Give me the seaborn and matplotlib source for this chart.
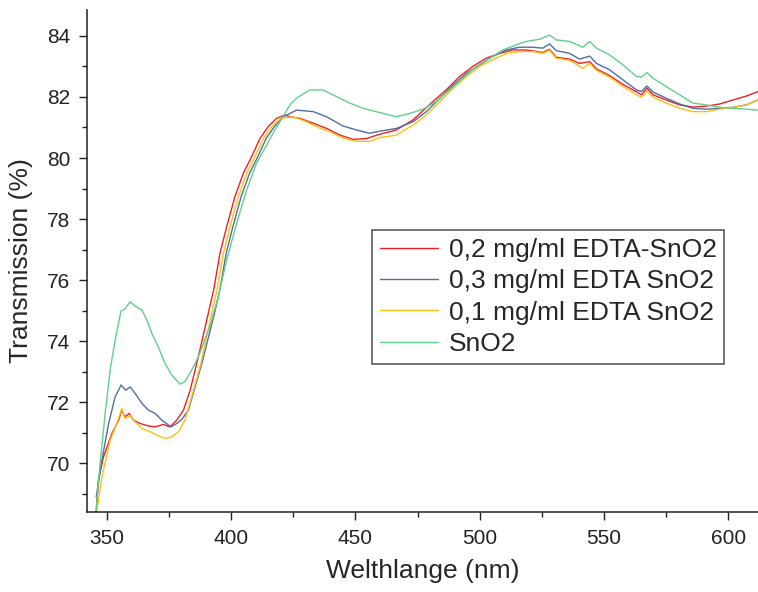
import matplotlib
matplotlib.use("Agg")
import matplotlib.pyplot as plt
from matplotlib.ticker import MultipleLocator
import pandas as pd
import seaborn as sns

# Transmission spectra (wavelength in nm, transmission in %)
labels = ["0,2 mg/ml EDTA-SnO2", "0,3 mg/ml EDTA SnO2", "0,1 mg/ml EDTA SnO2", "SnO2"]
colors = ["#ee2026", "#4e6fa3", "#ffc014", "#62cf8a"]

wl_02 = [345.5, 346.6, 348.6, 352.0, 354.7, 356.0, 357.3, 359.0, 360.7, 363.4, 366.7, 369.4,
         372.7, 375.4, 378.1, 380.8, 383.5, 386.8, 390.8, 393.0, 395.5, 398.2, 401.5, 404.9,
         408.2, 411.6, 414.9, 418.3, 421.6, 423.6, 427.6, 433.0, 438.4, 443.8, 449.1, 454.5,
         459.8, 466.5, 473.2, 481.2, 486.5, 491.9, 497.2, 502.6, 508.0, 513.3, 518.7, 525.4,
         528.1, 530.8, 536.2, 540.2, 544.3, 547.0, 552.3, 557.7, 563.1, 565.1, 567.3, 569.8,
         575.1, 580.5, 585.8, 591.2, 596.5, 601.9, 607.3, 611.8]
t_02 = [68.2, 69.44, 70.2, 70.97, 71.41, 71.74, 71.52, 71.63, 71.41, 71.30, 71.22, 71.19,
        71.27, 71.19, 71.41, 71.74, 72.39, 73.49, 74.91, 75.7, 76.88, 77.75, 78.73, 79.5,
        80.04, 80.64, 81.03, 81.3, 81.41, 81.35, 81.3, 81.14, 80.97, 80.75, 80.61, 80.64,
        80.78, 80.92, 81.25, 81.85, 82.23, 82.67, 83.0, 83.27, 83.43, 83.54, 83.54, 83.46,
        83.56, 83.3, 83.24, 83.1, 83.16, 82.92, 82.7, 82.41, 82.17, 82.07, 82.29, 82.07,
        81.9, 81.74, 81.67, 81.7, 81.77, 81.9, 82.03, 82.17]

wl_03 = [345.7, 348.0, 350.7, 353.3, 355.7, 357.6, 359.4, 361.4, 364.1, 366.7, 369.4, 372.1,
         375.8, 378.1, 380.1, 382.8, 385.5, 388.2, 393.3, 395.5, 398.0, 400.7, 404.0, 407.4,
         410.7, 414.1, 417.4, 421.0, 426.3, 433.0, 438.4, 445.0, 450.4, 455.7, 459.8, 466.5,
         473.2, 478.6, 484.0, 489.3, 494.7, 500.0, 505.3, 510.7, 516.0, 521.4, 525.4, 528.1,
         530.8, 536.2, 540.2, 544.3, 547.0, 552.3, 557.7, 563.1, 565.1, 567.3, 569.8, 575.1,
         580.5, 585.8, 591.2, 596.5, 601.9, 607.3, 611.8]
t_03 = [68.9, 70.1, 71.3, 72.17, 72.56, 72.39, 72.5, 72.28, 71.96, 71.74, 71.63, 71.41,
        71.19, 71.30, 71.43, 71.74, 72.5, 73.27, 74.91, 75.7, 76.88, 77.75, 78.73, 79.5,
        80.04, 80.64, 81.03, 81.35, 81.57, 81.52, 81.35, 81.05, 80.92, 80.81, 80.88, 80.97,
        81.19, 81.52, 81.96, 82.39, 82.78, 83.05, 83.33, 83.54, 83.63, 83.63, 83.6, 83.74,
        83.52, 83.43, 83.24, 83.34, 83.1, 82.89, 82.56, 82.23, 82.18, 82.36, 82.16, 81.96,
        81.77, 81.63, 81.6, 81.63, 81.66, 81.74, 81.9]

wl_01 = [346.0, 348.0, 351.3, 354.0, 356.0, 357.3, 359.4, 361.4, 364.1, 367.4, 370.1, 373.4,
         376.1, 378.8, 381.4, 384.1, 387.5, 392.2, 394.4, 396.9, 399.6, 402.9, 406.3, 409.6,
         413.0, 416.3, 420.0, 425.0, 430.0, 435.0, 440.0, 445.0, 450.0, 455.7, 459.8, 466.5,
         473.2, 478.6, 484.0, 489.3, 494.7, 500.0, 505.3, 510.7, 516.0, 521.4, 525.4, 528.1,
         530.8, 536.2, 541.5, 544.3, 547.0, 552.3, 557.7, 563.1, 565.1, 567.3, 569.8, 575.1,
         580.5, 585.8, 591.2, 596.5, 601.9, 607.3, 611.8]
t_01 = [68.46, 69.55, 70.75, 71.3, 71.79, 71.46, 71.57, 71.35, 71.14, 71.03, 70.92, 70.81,
        70.86, 71.03, 71.41, 72.17, 73.16, 74.91, 75.7, 76.88, 77.75, 78.73, 79.5, 80.04,
        80.64, 81.03, 81.3, 81.35, 81.2, 81.0, 80.85, 80.65, 80.55, 80.54, 80.67, 80.75,
        81.08, 81.41, 81.85, 82.28, 82.67, 83.0, 83.22, 83.43, 83.49, 83.49, 83.43, 83.53,
        83.27, 83.2, 82.94, 83.1, 82.87, 82.65, 82.34, 82.07, 81.99, 82.2, 81.99, 81.8,
        81.63, 81.52, 81.52, 81.6, 81.66, 81.74, 81.9]

wl_sno2 = [345.7, 346.6, 349.3, 351.3, 353.3, 355.7, 357.1, 359.4, 361.4, 364.1, 366.1, 368.1,
           370.7, 373.4, 376.1, 379.4, 381.4, 384.1, 386.8, 391.5, 394.8, 398.2, 402.2, 406.2,
           410.2, 414.3, 417.6, 420.9, 423.6, 426.3, 431.6, 437.0, 441.0, 447.7, 453.0, 459.8,
           466.5, 471.8, 477.2, 482.5, 487.9, 493.2, 498.6, 504.0, 509.3, 514.7, 518.7, 524.1,
           528.1, 530.8, 536.2, 541.5, 544.3, 547.0, 552.3, 557.7, 563.1, 565.1, 567.3, 569.8,
           575.1, 580.5, 585.8, 591.2, 596.5, 601.9, 607.3, 611.8]
t_sno2 = [68.46, 69.44, 71.63, 73.05, 74.03, 74.99, 75.04, 75.29, 75.15, 75.02, 74.69, 74.25,
          73.81, 73.27, 72.89, 72.59, 72.67, 73.05, 73.49, 74.5, 75.45, 76.66, 77.86, 78.95,
          79.83, 80.43, 80.92, 81.35, 81.74, 81.96, 82.23, 82.23, 82.07, 81.8, 81.63, 81.49,
          81.35, 81.46, 81.6, 81.85, 82.23, 82.61, 83.0, 83.27, 83.54, 83.71, 83.82, 83.89,
          84.03, 83.87, 83.82, 83.63, 83.82, 83.6, 83.38, 83.05, 82.67, 82.65, 82.8, 82.61,
          82.34, 82.07, 81.8, 81.74, 81.66, 81.63, 81.6, 81.57]

series = [(wl_02, t_02), (wl_03, t_03), (wl_01, t_01), (wl_sno2, t_sno2)]
frames = [pd.DataFrame({"wl": wl, "T": t, "sample": lab})
          for (wl, t), lab in zip(series, labels)]
df = pd.concat(frames, ignore_index=True)

sns.set_style("ticks")
plt.rcParams["font.family"] = ["Liberation Sans", "DejaVu Sans"]

fig = plt.figure(figsize=(7.58, 5.92), dpi=100)
ax = fig.add_axes([0.1148, 0.1351, 0.8852, 0.848])

sns.lineplot(data=df, x="wl", y="T", hue="sample", hue_order=labels,
             palette=dict(zip(labels, colors)), estimator=None, sort=False,
             linewidth=1.0, ax=ax, legend=False)

ax.set_xlim(342, 612)
ax.set_ylim(68.4, 84.85)
ax.xaxis.set_major_locator(MultipleLocator(50))
ax.xaxis.set_minor_locator(MultipleLocator(25))
ax.yaxis.set_major_locator(MultipleLocator(2))
ax.yaxis.set_minor_locator(MultipleLocator(1))

for side in ("top", "right"):
    ax.spines[side].set_visible(False)
for side in ("left", "bottom"):
    ax.spines[side].set_linewidth(1.1)
    ax.spines[side].set_color("#222222")

ax.tick_params(which="major", length=6, width=1.0, color="#222222",
               labelsize=15, pad=6, labelcolor="#222222")
ax.tick_params(which="minor", length=3.5, width=1.0, color="#222222")

ax.set_xlabel("Welthlange (nm)", fontsize=19, labelpad=8)
ax.set_ylabel("Transmission (%)", fontsize=19, labelpad=10)

handles = [plt.Line2D([], [], color=c, linewidth=1.0) for c in colors]
leg = ax.legend(handles, labels, loc="upper left", bbox_to_anchor=(0.4247, 0.5618),
                borderaxespad=0, fontsize=19, frameon=True, fancybox=False,
                handlelength=2.2, handletextpad=0.4, labelspacing=0.28,
                borderpad=0.3)
leg.get_frame().set_edgecolor("#222222")
leg.get_frame().set_linewidth(1.1)

fig.savefig("out.png", dpi=100)
